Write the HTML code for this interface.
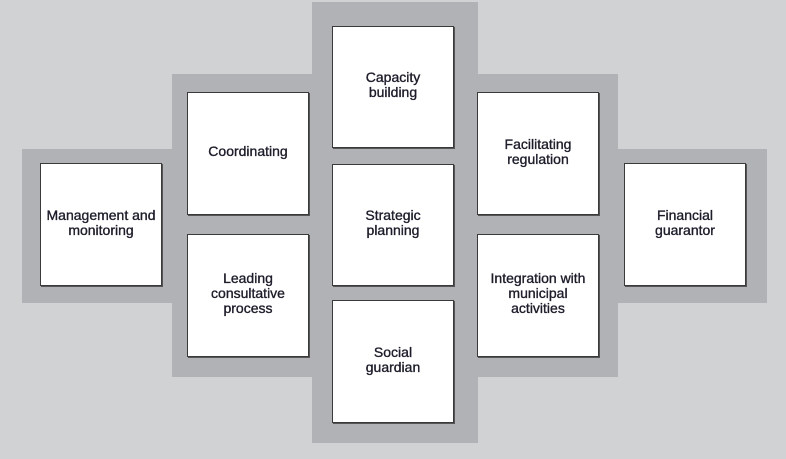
<!DOCTYPE html>
<html><head><meta charset="utf-8"><style>
html,body{margin:0;padding:0}
body{width:786px;height:459px;background:#d1d2d4;position:relative;overflow:hidden;font-family:"Liberation Sans",sans-serif}
.band{position:absolute;background:#b1b2b5}
.b{position:absolute;background:#fff;border:1px solid #3a3a3a;box-shadow:1px 1px 0 #555;box-sizing:border-box;display:flex;align-items:center;justify-content:center;text-align:center;font-size:14px;font-weight:normal;-webkit-text-stroke:0.35px #1c1c2a;color:#1c1c2a;line-height:15px;padding-bottom:4px}
</style></head><body>
<div class="band" style="left:22px;top:149px;width:745px;height:154px"></div>
<div class="band" style="left:172px;top:74px;width:446px;height:303px"></div>
<div class="band" style="left:312px;top:2px;width:166px;height:441px"></div>
<div class="b" style="left:40px;top:163px;width:122px;height:123px">Management and<br>monitoring</div>
<div class="b" style="left:187px;top:92px;width:122px;height:123px">Coordinating</div>
<div class="b" style="left:187px;top:234px;width:122px;height:123px">Leading<br>consultative<br>process</div>
<div class="b" style="left:332px;top:26px;width:122px;height:122px">Capacity<br>building</div>
<div class="b" style="left:332px;top:164px;width:122px;height:122px">Strategic<br>planning</div>
<div class="b" style="left:332px;top:300px;width:122px;height:123px">Social<br>guardian</div>
<div class="b" style="left:477px;top:92px;width:122px;height:123px">Facilitating<br>regulation</div>
<div class="b" style="left:477px;top:234px;width:122px;height:123px">Integration with<br>municipal<br>activities</div>
<div class="b" style="left:624px;top:163px;width:122px;height:123px">Financial<br>guarantor</div>
</body></html>
